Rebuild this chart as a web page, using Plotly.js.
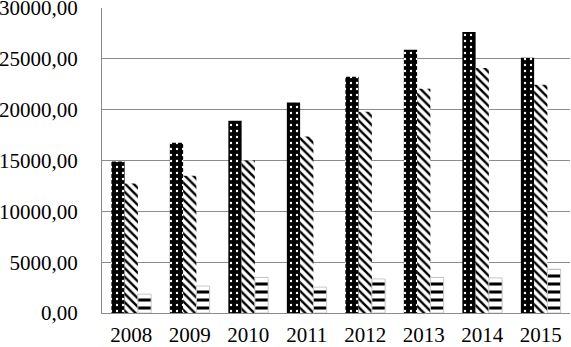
<!DOCTYPE html>
<html>
<head>
<meta charset="utf-8">
<script src="https://cdn.plot.ly/plotly-3.0.1.min.js"></script>
<style>html,body{margin:0;padding:0;background:#fff;}#chart{width:571px;height:347px;}</style>
</head>
<body>
<div id="chart"></div>
<script>
var years = ['2008', '2009', '2010', '2011', '2012', '2013', '2014', '2015'];
var seriesA = [14900, 16750, 18900, 20700, 23250, 25900, 27650, 25100];
var seriesB = [12750, 13500, 15000, 17350, 19800, 22050, 24100, 22450];
var seriesC = [1850, 2650, 3500, 2550, 3350, 3500, 3450, 4300];

var traces = [
  {type: 'bar', x: years, y: seriesA, name: 'A',
   marker: {color: '#000', line: {width: 0},
     pattern: {shape: '.', bgcolor: '#000', fgcolor: '#fff', size: 6, solidity: 0.12, fillmode: 'replace'}}},
  {type: 'bar', x: years, y: seriesB, name: 'B',
   marker: {color: '#fff', line: {width: 0},
     pattern: {shape: '\\', bgcolor: '#fff', fgcolor: '#000', size: 6, solidity: 0.4, fillmode: 'replace'}}},
  {type: 'bar', x: years, y: seriesC, name: 'C',
   marker: {color: '#fff', line: {width: 1, color: '#c8c8c8'},
     pattern: {shape: '-', bgcolor: '#fff', fgcolor: '#000', size: 8, solidity: 0.38, fillmode: 'replace'}}}
];

var layout = {
  width: 571, height: 347,
  margin: {l: 102, r: 1, t: 8, b: 34, pad: 0},
  paper_bgcolor: '#fff', plot_bgcolor: '#fff',
  showlegend: false,
  barmode: 'group', bargap: 0.32, bargroupgap: 0,
  separators: ',.',
  font: {family: 'Liberation Serif, serif', size: 21, color: '#000'},
  xaxis: {type: 'category', showgrid: false, showline: true, linecolor: '#8c8c8c', linewidth: 1,
          ticks: 'outside', ticklen: 3, tickcolor: 'rgba(0,0,0,0)', zeroline: false},
  yaxis: {range: [0, 30000], tickvals: [0, 5000, 10000, 15000, 20000, 25000, 30000], tickformat: '.2f',
          ticklabeloverflow: 'allow',
          showgrid: true, gridcolor: '#8c8c8c', gridwidth: 1, showline: true, linecolor: '#8c8c8c', linewidth: 1,
          ticks: 'outside', ticklen: 19, tickcolor: 'rgba(0,0,0,0)', zeroline: false}
};

Plotly.newPlot('chart', traces, layout, {staticPlot: true, displayModeBar: false});
</script>
</body>
</html>
